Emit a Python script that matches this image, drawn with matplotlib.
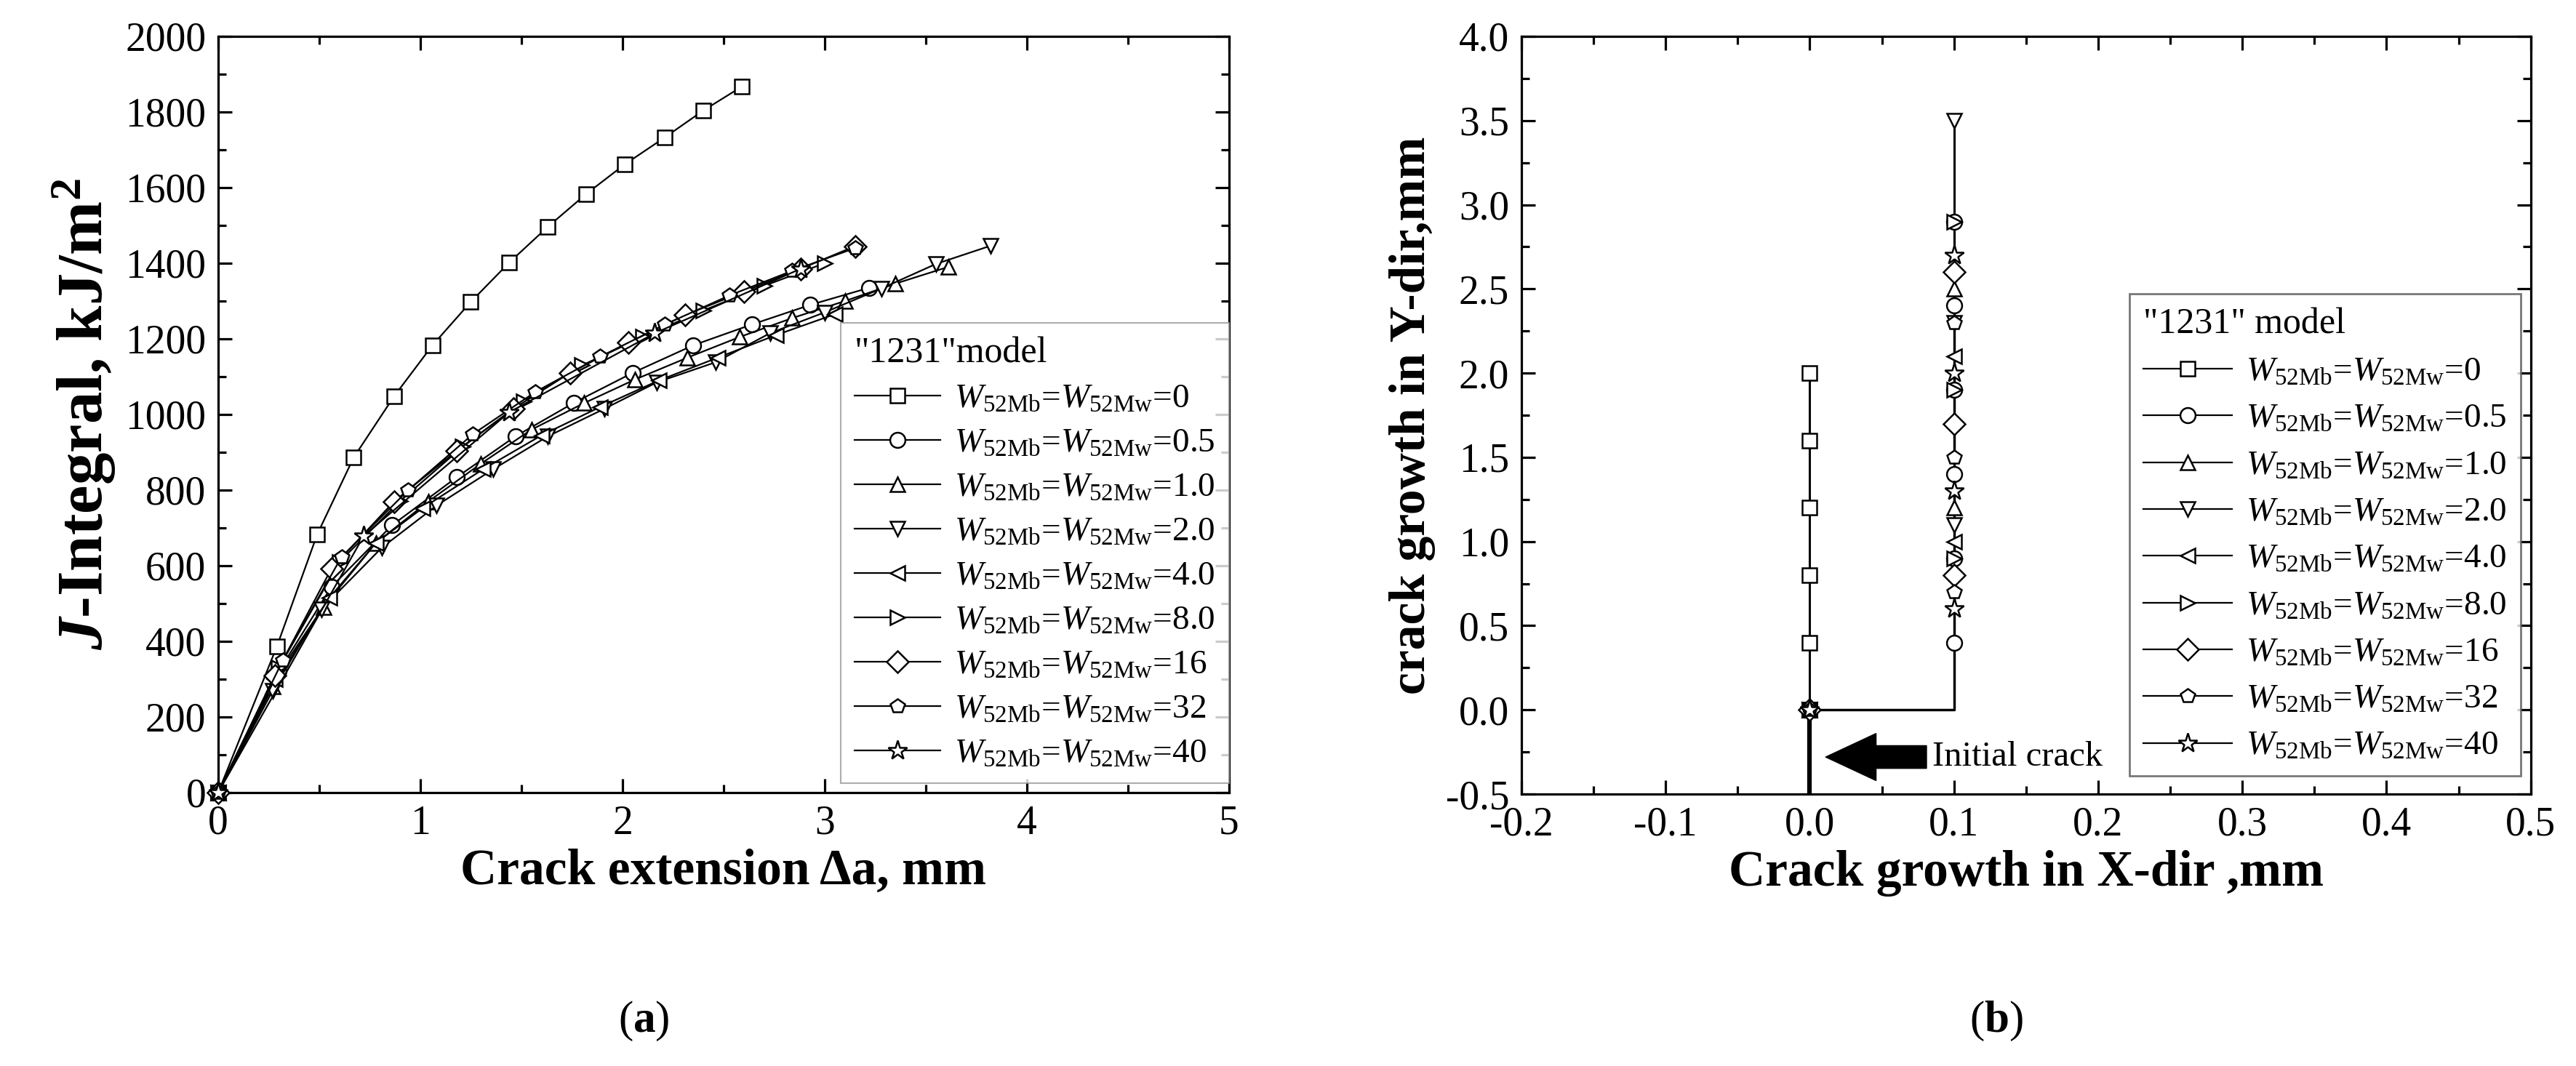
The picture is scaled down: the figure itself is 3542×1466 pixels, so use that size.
import numpy as np
import matplotlib
matplotlib.use("Agg")
import matplotlib.pyplot as plt
from matplotlib.ticker import MultipleLocator, FormatStrFormatter

plt.rcParams['font.family'] = 'serif'
plt.rcParams['font.serif'] = ['Liberation Serif', 'DejaVu Serif']
plt.rcParams['mathtext.fontset'] = 'custom'
plt.rcParams['mathtext.rm'] = 'Liberation Serif'
plt.rcParams['mathtext.it'] = 'Liberation Serif:italic'
plt.rcParams['mathtext.bf'] = 'Liberation Serif:bold'
plt.rcParams['mathtext.bfit'] = 'Liberation Serif:bold:italic'

# ---- data -------------------------------------------------------------
w_values = ["0", "0.5", "1.0", "2.0", "4.0", "8.0", "16", "32", "40"]
markers = ["s", "o", "^", "v", "<", ">", "D", "p", "*"]

# (a) J-integral vs crack extension
da_0 = [0, 0.29, 0.49, 0.67, 0.87, 1.06, 1.25, 1.44, 1.63, 1.82, 2.01, 2.21, 2.40, 2.59]
j_0 = [0, 386, 683, 886, 1048, 1183, 1298, 1402, 1496, 1583, 1661, 1733, 1804, 1867]
da_05 = [0, 0.30, 0.56, 0.86, 1.18, 1.47, 1.76, 2.05, 2.35, 2.64, 2.93, 3.22]
j_05 = [0, 321, 544, 707, 834, 942, 1031, 1110, 1183, 1238, 1290, 1335]
da_1 = [0, 0.27, 0.52, 0.78, 1.04, 1.30, 1.55, 1.81, 2.06, 2.32, 2.58, 2.84, 3.10, 3.35, 3.61]
j_1 = [0, 280, 490, 660, 770, 870, 960, 1030, 1092, 1150, 1205, 1255, 1300, 1346, 1390]
da_2 = [0, 0.27, 0.51, 0.81, 1.08, 1.36, 1.63, 1.91, 2.17, 2.46, 2.73, 3.00, 3.28, 3.55, 3.82]
j_2 = [0, 270, 485, 648, 759, 855, 942, 1015, 1085, 1138, 1215, 1270, 1333, 1398, 1446]
da_4 = [0, 0.28, 0.55, 0.78, 1.01, 1.31, 1.60, 1.89, 2.18, 2.47, 2.76, 3.05]
j_4 = [0, 300, 515, 660, 752, 855, 945, 1020, 1090, 1150, 1210, 1265]
da_8 = [0, 0.30, 0.60, 0.90, 1.21, 1.51, 1.80, 2.10, 2.40, 2.70, 3.00]
j_8 = [0, 330, 610, 771, 915, 1035, 1130, 1205, 1275, 1340, 1400]
da_16 = [0, 0.28, 0.56, 0.87, 1.18, 1.46, 1.74, 2.03, 2.31, 2.60, 2.88, 3.15]
j_16 = [0, 310, 592, 770, 904, 1015, 1110, 1190, 1263, 1325, 1385, 1445]
da_32 = [0, 0.32, 0.61, 0.94, 1.26, 1.57, 1.89, 2.21, 2.53, 2.84, 3.15]
j_32 = [0, 350, 623, 800, 948, 1060, 1153, 1238, 1315, 1380, 1440]
da_40 = [0, 0.72, 1.44, 2.16, 2.88]
j_40 = [0, 679, 1006, 1215, 1385]

da_list = [da_0, da_05, da_1, da_2, da_4, da_8, da_16, da_32, da_40]
j_list = [j_0, j_05, j_1, j_2, j_4, j_8, j_16, j_32, j_40]

# (b) crack path: all start at (0,0); W=0 grows along x=0, the rest along x=0.1
path_x = [0.0, 0.1, 0.1, 0.1, 0.1, 0.1, 0.1, 0.1, 0.1]
y_0 = [0.4, 0.8, 1.2, 1.6, 2.0]
y_05 = [0.4, 0.9, 1.4, 1.9, 2.4, 2.9]
y_1 = [1.2, 2.5]
y_2 = [1.1, 2.3, 3.5]
y_4 = [1.0, 2.1]
y_8 = [0.9, 1.9, 2.9]
y_16 = [0.8, 1.7, 2.6]
y_32 = [0.7, 1.5, 2.3]
y_40 = [0.6, 1.3, 2.0, 2.7]
path_y = [y_0, y_05, y_1, y_2, y_4, y_8, y_16, y_32, y_40]

# ---- figure -----------------------------------------------------------
fig = plt.figure(figsize=(35.42, 14.66), dpi=100)
ax1 = fig.add_axes([0.0847, 0.2565, 0.3924, 0.7094])
ax2 = fig.add_axes([0.5906, 0.2551, 0.3918, 0.7108])

tick_fs = 40
label_fs = 50
leg_fs = 34
mk = 15
lw = 1.6


def style_axes(ax):
    for sp in ax.spines.values():
        sp.set_linewidth(2.3)
    ax.tick_params(which='both', direction='in', top=True, right=True,
                   labelsize=tick_fs, width=2.3, pad=12)
    ax.tick_params(which='major', length=14)
    ax.tick_params(which='minor', length=8)


def legend_label(w):
    return r'$W_{\mathrm{52Mb}}$=$W_{\mathrm{52Mw}}$=' + w


def msize(m):
    return mk + 5 if m == '*' else mk


for i in range(len(w_values)):
    ax1.plot(da_list[i], j_list[i], color='black', lw=lw, marker=markers[i],
             ms=msize(markers[i]), mfc='white', mec='black', mew=1.8,
             label=legend_label(w_values[i]), clip_on=False, zorder=3)

ax1.set_xlim(0, 5)
ax1.set_ylim(0, 2000)
ax1.xaxis.set_major_locator(MultipleLocator(1))
ax1.xaxis.set_minor_locator(MultipleLocator(0.5))
ax1.yaxis.set_major_locator(MultipleLocator(200))
ax1.yaxis.set_minor_locator(MultipleLocator(100))
style_axes(ax1)
ax1.set_xlabel('Crack extension \u0394a, mm', fontsize=label_fs, fontweight='bold', labelpad=6)
ax1.set_ylabel(r'$\mathbfit{J}$-Integral, kJ/m$^{\mathbf{2}}$', fontsize=64,
               fontweight='bold', labelpad=8)
leg1 = ax1.legend(title='"1231"model', loc='lower right', bbox_to_anchor=(1.0, 0.012),
                  fontsize=leg_fs, title_fontsize=leg_fs + 2, frameon=True, fancybox=False,
                  edgecolor='#999999', handlelength=2.5, handletextpad=0.4,
                  labelspacing=0.38, borderpad=0.4, borderaxespad=0, alignment='left')
leg1.get_frame().set_linewidth(1.5)

# (b)
for i in range(len(w_values)):
    x0 = path_x[i]
    ys = path_y[i]
    if x0 == 0:
        lx = [0, 0]
        ly = [0, ys[-1]]
    else:
        lx = [0, x0, x0]
        ly = [0, 0, ys[-1]]
    ax2.plot(lx, ly, color='black', lw=lw + 0.6, zorder=2)
    ax2.plot([0] + [x0] * len(ys), [0] + ys, ls='none', marker=markers[i],
             ms=msize(markers[i]), mfc='white', mec='black', mew=1.8, zorder=3)
    ax2.plot([], [], color='black', lw=lw, marker=markers[i],
             ms=msize(markers[i]), mfc='white', mec='black', mew=1.8,
             label=legend_label(w_values[i]))

# initial crack
ax2.plot([0, 0], [-0.5, 0], color='black', lw=4.5, zorder=2)
ax2.arrow(0.081, -0.28, -0.07, 0, width=0.135, head_width=0.28, head_length=0.035,
          length_includes_head=True, fc='black', ec='black', zorder=4)
ax2.text(0.085, -0.28, 'Initial crack', fontsize=35, va='center', ha='left')

ax2.set_xlim(-0.2, 0.5)
ax2.set_ylim(-0.5, 4.0)
ax2.xaxis.set_major_locator(MultipleLocator(0.1))
ax2.xaxis.set_minor_locator(MultipleLocator(0.05))
ax2.yaxis.set_major_locator(MultipleLocator(0.5))
ax2.yaxis.set_minor_locator(MultipleLocator(0.25))
ax2.xaxis.set_major_formatter(FormatStrFormatter('%.1f'))
ax2.yaxis.set_major_formatter(FormatStrFormatter('%.1f'))
style_axes(ax2)
ax2.set_xlabel('Crack growth in X-dir ,mm', fontsize=label_fs, fontweight='bold', labelpad=6)
ax2.set_ylabel('crack growth in Y-dir,mm', fontsize=label_fs, fontweight='bold', labelpad=10)
leg2 = ax2.legend(title='"1231" model', loc='lower right', bbox_to_anchor=(0.99, 0.024),
                  fontsize=leg_fs, title_fontsize=leg_fs + 2, frameon=True, fancybox=False,
                  edgecolor='#555555', handlelength=2.6, handletextpad=0.4,
                  labelspacing=0.45, borderpad=0.4, borderaxespad=0, alignment='left')
leg2.get_frame().set_linewidth(2.0)

fig.text(0.25, 0.042, r'($\mathbf{a}$)', fontsize=44, ha='center', va='center')
fig.text(0.775, 0.042, r'($\mathbf{b}$)', fontsize=44, ha='center', va='center')

fig.savefig('out.png', dpi=100, facecolor='white')
